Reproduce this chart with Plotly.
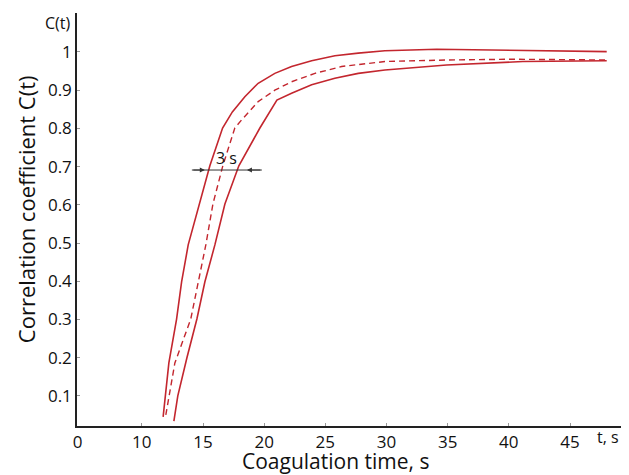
import plotly.graph_objects as go

# Upper (left) solid curve
upper_x = [11.74, 12.21, 12.84, 13.25, 13.79, 14.69, 15.56, 16.6, 17.4, 18.42, 19.51, 20.87,
           22.24, 23.88, 25.78, 27.69, 29.87, 34.1, 37.64, 43.09, 48.0]
upper_y = [0.045, 0.186, 0.301, 0.398, 0.495, 0.602, 0.702, 0.801, 0.843, 0.883, 0.918, 0.944,
           0.962, 0.977, 0.99, 0.997, 1.003, 1.007, 1.005, 1.003, 1.001]

# Middle dashed curve
mid_x = [11.96, 12.7, 14.0, 15.23, 15.81, 16.62, 17.6, 18.15, 19.51, 20.87, 22.24, 24.15,
         26.33, 28.23, 29.87, 34.91, 40.34, 48.0]
mid_y = [0.05, 0.186, 0.301, 0.495, 0.602, 0.702, 0.801, 0.822, 0.87, 0.9, 0.922, 0.944,
         0.962, 0.97, 0.975, 0.979, 0.981, 0.979]

# Lower (right) solid curve
lower_x = [12.62, 12.94, 13.68, 14.5, 15.15, 15.97, 16.79, 17.93, 19.65, 21.04, 22.24, 23.88,
           25.78, 27.69, 29.87, 34.91, 41.15, 48.0]
lower_y = [0.034, 0.1, 0.199, 0.301, 0.398, 0.495, 0.602, 0.702, 0.801, 0.874, 0.892, 0.914,
           0.931, 0.944, 0.953, 0.966, 0.975, 0.977]

x_tick_vals = [4.75, 10, 15, 20, 25, 30, 35, 40, 45]
x_tick_text = ["0", "10", "15", "20", "25", "30", "35", "40", "45"]
y_tick_vals = [0.1, 0.2, 0.3, 0.4, 0.5, 0.6, 0.7, 0.8, 0.9, 1.0]
y_tick_text = ["0.1", "0.2", "0.3", "0.4", "0.5", "0.6", "0.7", "0.8", "0.9", "1"]

# "3 s" marker
gap_y = 0.691
gap_line = [14.09, 19.81]
gap_tips = [15.15, 18.59]
gap_label = "3 s"

RED = "#c3262e"
FONT = "Open Sans"
INK = "#111111"

fig = go.Figure()
fig.add_trace(go.Scatter(x=upper_x, y=upper_y, mode="lines",
                         line=dict(color=RED, width=1.6), hoverinfo="skip"))
fig.add_trace(go.Scatter(x=mid_x, y=mid_y, mode="lines",
                         line=dict(color=RED, width=1.4, dash="6px,4px"), hoverinfo="skip"))
fig.add_trace(go.Scatter(x=lower_x, y=lower_y, mode="lines",
                         line=dict(color=RED, width=1.6), hoverinfo="skip"))

fig.add_shape(type="line", x0=gap_line[0], x1=gap_line[1], y0=gap_y, y1=gap_y,
              xref="x", yref="y", line=dict(color="#333333", width=1))
for tip, tail in zip(gap_tips, gap_line):
    fig.add_annotation(x=tip, y=gap_y, ax=tail, ay=gap_y, axref="x", ayref="y",
                       xref="x", yref="y", text="", showarrow=True, arrowhead=2, arrowsize=1,
                       arrowwidth=1, arrowcolor="#333333")
fig.add_annotation(x=16.95, y=0.723, xref="x", yref="y", text=gap_label, showarrow=False,
                   font=dict(family=FONT, size=16, color=INK))

# corner axis labels
fig.add_annotation(x=0, y=1, xref="paper", yref="paper", xshift=-4, yshift=3, text="C(t)",
                   showarrow=False, xanchor="right", yanchor="top",
                   font=dict(family=FONT, size=16, color=INK))
fig.add_annotation(x=1, y=0, xref="paper", yref="paper", xshift=-1, yshift=-11, text="t, s",
                   showarrow=False, xanchor="right", yanchor="middle",
                   font=dict(family=FONT, size=16, color=INK))

# axis titles
fig.add_annotation(x=0.474, y=0, xref="paper", yref="paper", yshift=-35,
                   text="Coagulation time, s", showarrow=False, xanchor="center", yanchor="middle",
                   font=dict(family=FONT, size=21, color=INK))
fig.add_annotation(x=0, y=0.525, xref="paper", yref="paper", xshift=-51,
                   text="Correlation coefficient C(t)", showarrow=False, textangle=-90,
                   xanchor="center", yanchor="middle",
                   font=dict(family=FONT, size=22, color=INK))

# page body has an 8px margin, so the figure is offset by 8px
fig.update_layout(
    width=621, height=467,
    margin=dict(l=69, r=7, t=5, b=49),
    plot_bgcolor="white", paper_bgcolor="white",
    showlegend=False,
    font=dict(family=FONT, color=INK),
)
fig.update_xaxes(range=[4.7, 49.25], tickvals=x_tick_vals, ticktext=x_tick_text,
                 automargin=False,
                 showgrid=False, zeroline=False, showline=True, linecolor="#222222", linewidth=1.5,
                 ticks="inside", ticklen=3, tickcolor="#999999",
                 tickfont=dict(family=FONT, size=17, color=INK))
fig.update_yaxes(range=[0.021, 1.102], tickvals=y_tick_vals, ticktext=y_tick_text,
                 automargin=False,
                 showgrid=False, zeroline=False, showline=True, linecolor="#222222", linewidth=1.5,
                 ticks="inside", ticklen=3, tickcolor="#999999",
                 tickfont=dict(family=FONT, size=17, color=INK))

fig.write_html("out.html")
